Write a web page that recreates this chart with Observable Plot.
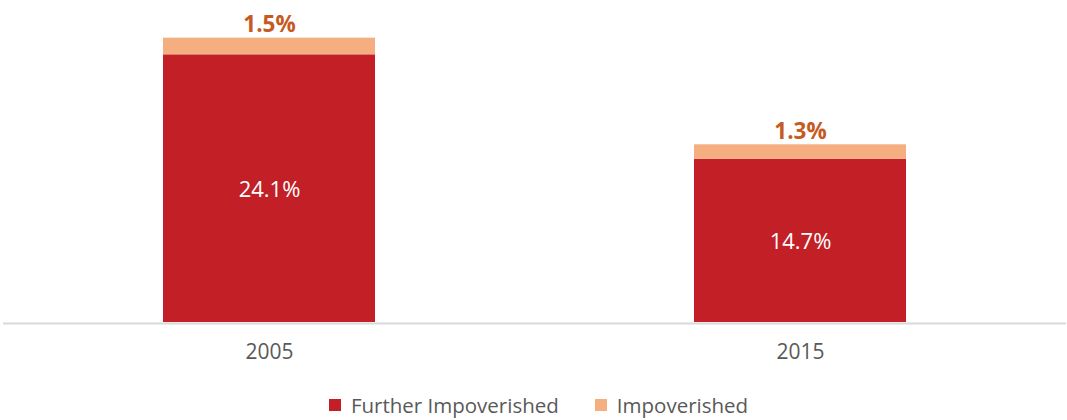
<!DOCTYPE html>
<html>
<head>
<meta charset="utf-8">
<script src="https://cdn.jsdelivr.net/npm/d3@7"></script>
<script src="https://cdn.jsdelivr.net/npm/@observablehq/plot@0.6"></script>
<style>
  html, body { margin: 0; padding: 0; background: #fff; }
  body { width: 1067px; height: 420px; overflow: hidden; font-family: "Open Sans", sans-serif; }
  #legend { display: flex; justify-content: center; align-items: center; height: 30px; padding-top: 10px; padding-left: 10px; font-size: 20.5px; color: #595959; }
  .item { display: flex; align-items: center; margin: 0 18px; }
  .sw { width: 12px; height: 12px; margin-right: 10px; }
</style>
</head>
<body>
<div id="chart"></div>
<div id="legend"></div>
<script>
const years = ["2005", "2015"];
const seriesNames = ["Further Impoverished", "Impoverished"];
const furtherImpoverished = [24.1, 14.7];
const impoverished = [1.5, 1.3];
const colors = ["#C21F27", "#F4AE7F"];

const rows = [];
years.forEach((yr, i) => {
  rows.push({year: yr, series: seriesNames[0], value: furtherImpoverished[i]});
  rows.push({year: yr, series: seriesNames[1], value: impoverished[i]});
});
const totals = years.map((yr, i) => ({year: yr, total: furtherImpoverished[i] + impoverished[i], label: impoverished[i].toFixed(1) + "%"}));

const chart = Plot.plot({
  width: 1067,
  height: 380,
  marginTop: 11,
  marginBottom: 58,
  marginLeft: 3,
  marginRight: 1,
  style: {fontFamily: "Open Sans", fontSize: "21px", color: "#595959", background: "#fff"},
  x: {domain: years, paddingInner: 0.6, paddingOuter: 0.3, label: null, tickSize: 0, tickPadding: 22},
  y: {domain: [0, 28], axis: null},
  color: {domain: seriesNames, range: colors},
  marks: [
    Plot.ruleY([0], {stroke: "#D9D9D9", strokeWidth: 2, dy: 1}),
    Plot.barY(rows, {x: "year", y: "value", fill: "series", order: seriesNames}),
    Plot.text(rows.filter(d => d.series === seriesNames[0]), Plot.stackY({x: "year", y: "value", text: d => d.value.toFixed(1) + "%", fill: "#fff", fontSize: 22, dy: 1})),
    Plot.text(totals, {x: "year", y: "total", text: "label", fill: "#C55A22", fontWeight: "bold", fontSize: 22.5, lineAnchor: "bottom", dy: -6})
  ]
});
document.getElementById("chart").appendChild(chart);

const legend = document.getElementById("legend");
seriesNames.forEach((name, i) => {
  const item = document.createElement("div");
  item.className = "item";
  const sw = document.createElement("div");
  sw.className = "sw";
  sw.style.background = colors[i];
  const t = document.createElement("span");
  t.textContent = name;
  item.appendChild(sw);
  item.appendChild(t);
  legend.appendChild(item);
});
</script>
</body>
</html>
